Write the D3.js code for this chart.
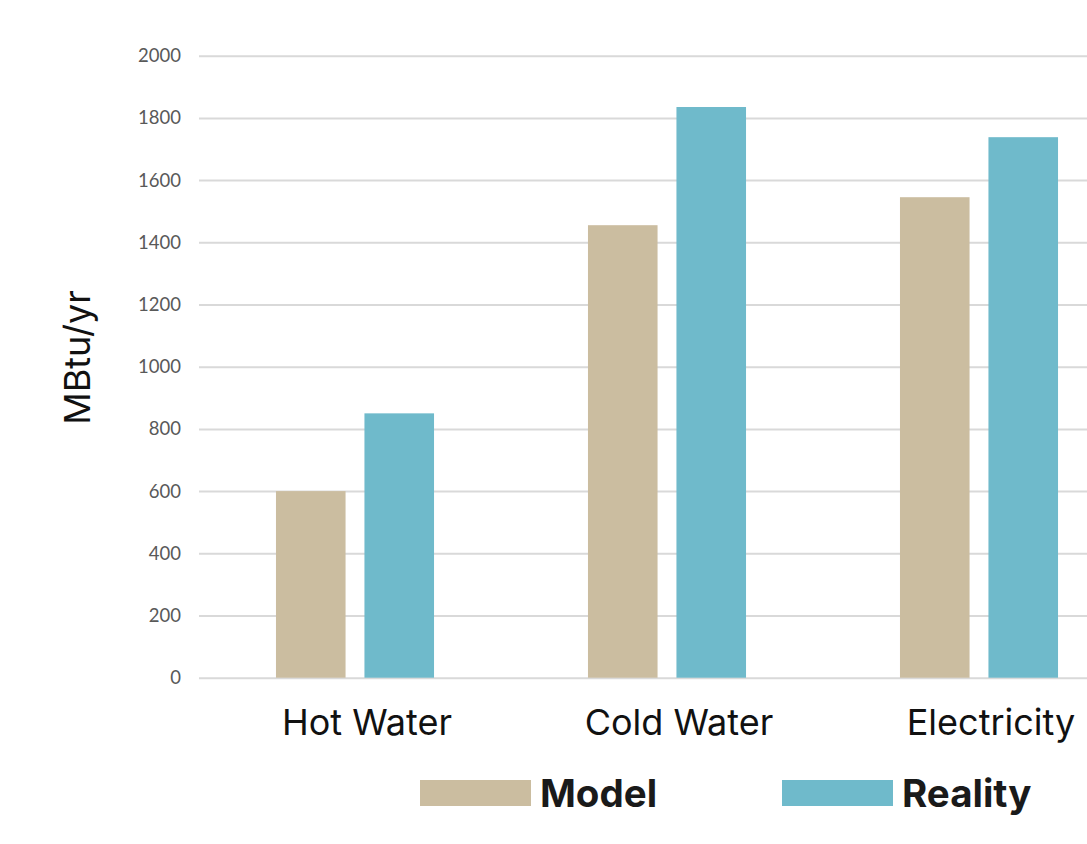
<!DOCTYPE html>
<html>
<head>
<meta charset="utf-8">
<script src="https://cdn.jsdelivr.net/npm/d3@7"></script>
<style>
  html, body { margin: 0; padding: 0; background: #fff; }
  svg { display: block; }
</style>
</head>
<body>
<svg id="chart" width="1087" height="844"></svg>
<script>
// Annual energy use: modelled vs. measured
const categories = ["Hot Water", "Cold Water", "Electricity"];
const seriesNames = ["Model", "Reality"];
const modelValues = [600, 1455, 1545];
const realityValues = [850, 1835, 1738];
const yTicks = [0, 200, 400, 600, 800, 1000, 1200, 1400, 1600, 1800, 2000];
const seriesColors = ["#CBBDA0", "#6FBACB"];

const svg = d3.select("#chart");

const plot = { left: 199, right: 1135, top: 55.7, bottom: 677.7 };

const x = d3.scaleBand()
  .domain(categories)
  .range([plot.left, plot.right])
  .paddingInner(0)
  .paddingOuter(0);

const xInner = d3.scaleBand()
  .domain(seriesNames)
  .range([0, x.bandwidth()])
  .paddingInner(0.2135)
  .paddingOuter(0.87);

const y = d3.scaleLinear()
  .domain([0, 2000])
  .range([plot.bottom, plot.top]);

const color = d3.scaleOrdinal().domain(seriesNames).range(seriesColors);

// gridlines + tick labels
const yAxis = d3.axisLeft(y)
  .tickValues(yTicks)
  .tickSize(-(plot.right - plot.left))
  .tickPadding(18)
  .tickFormat(d3.format("d"));

const gy = svg.append("g")
  .attr("transform", `translate(${plot.left},0)`)
  .call(yAxis);
gy.select(".domain").remove();
gy.selectAll(".tick line").attr("stroke", "#d9d9d9").attr("stroke-width", 2);
gy.selectAll(".tick text")
  .attr("fill", "#595959")
  .style("font-family", "Lato, 'Open Sans', sans-serif")
  .style("font-size", "18.5px");

// bars
const rows = categories.map((c, i) => ({
  category: c,
  values: [
    { series: "Model", value: modelValues[i] },
    { series: "Reality", value: realityValues[i] }
  ]
}));

const groups = svg.append("g").selectAll("g")
  .data(rows)
  .join("g")
  .attr("transform", d => `translate(${x(d.category)},0)`);

groups.selectAll("rect")
  .data(d => d.values)
  .join("rect")
  .attr("x", d => xInner(d.series))
  .attr("width", xInner.bandwidth())
  .attr("y", d => y(d.value))
  .attr("height", d => y(0) - y(d.value))
  .attr("fill", d => color(d.series));

// category labels
svg.append("g").selectAll("text")
  .data(categories)
  .join("text")
  .attr("x", d => x(d) + x.bandwidth() / 2 + 12)
  .attr("y", 735)
  .attr("text-anchor", "middle")
  .style("font-family", "Inter, 'Noto Sans', sans-serif")
  .style("font-size", "36px")
  .attr("fill", "#111")
  .text(d => d);

// y-axis title
svg.append("text")
  .attr("transform", "translate(90,357.5) rotate(-90)")
  .attr("text-anchor", "middle")
  .style("font-family", "Inter, 'Noto Sans', sans-serif")
  .style("font-size", "36px")
  .attr("fill", "#111")
  .text("MBtu/yr");

// legend
const legendX = [420, 782];
const legend = svg.append("g").selectAll("g")
  .data(seriesNames)
  .join("g")
  .attr("transform", (d, i) => `translate(${legendX[i]},780)`);

legend.append("rect")
  .attr("width", 111)
  .attr("height", 26)
  .attr("fill", d => color(d));

legend.append("text")
  .attr("x", 120)
  .attr("y", 27)
  .style("font-family", "Inter, 'Noto Sans', sans-serif")
  .style("font-weight", "700")
  .style("font-size", "38.5px")
  .attr("fill", "#1a1a1a")
  .text(d => d);
</script>
</body>
</html>
